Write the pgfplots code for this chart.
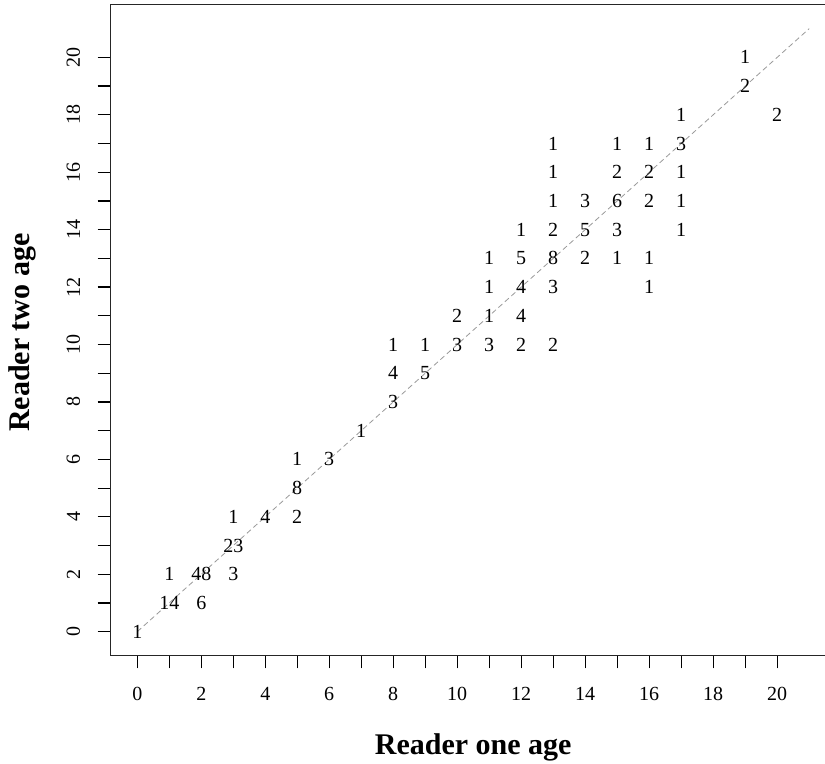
\documentclass[border=0pt]{standalone}
\usepackage{pgfplots}
\pgfplotsset{compat=1.18}
\usepackage{pgfplotstable}
\usepackage{fontspec}
\setmainfont{Liberation Serif}

\pgfplotstableread{
x y c
0 0 1
1 1 14
1 2 1
2 1 6
2 2 48
3 2 3
3 3 23
3 4 1
4 4 4
5 4 2
5 5 8
5 6 1
6 6 3
7 7 1
8 8 3
8 9 4
8 10 1
9 9 5
9 10 1
10 10 3
10 11 2
11 10 3
11 11 1
11 12 1
11 13 1
12 10 2
12 11 4
12 12 4
12 13 5
12 14 1
13 10 2
13 12 3
13 13 8
13 14 2
13 15 1
13 16 1
13 17 1
14 13 2
14 14 5
14 15 3
15 13 1
15 14 3
15 15 6
15 16 2
15 17 1
16 12 1
16 13 1
16 15 2
16 16 2
16 17 1
17 14 1
17 15 1
17 16 1
17 17 3
17 18 1
19 19 2
19 20 1
20 18 2
}\agetable

\begin{document}
\begin{tikzpicture}
  % page = visible part of the R device (right edge of the box is cut off)
  \useasboundingbox (-82.8pt,-80.4pt) rectangle (536pt,491.9pt);
  \begin{axis}[
    scale only axis,
    width=544.3pt, height=488.5pt,
    xmin=-0.84, xmax=21.84,
    ymin=-0.84, ymax=21.84,
    xtick={0,1,...,20},
    ytick={0,1,...,20},
    xticklabels={0,,2,,4,,6,,8,,10,,12,,14,,16,,18,,20},
    yticklabels={0,,2,,4,,6,,8,,10,,12,,14,,16,,18,,20},
    xtick pos=bottom, ytick pos=left,
    tick align=outside,
    major tick length=9.5pt,
    every tick/.style={black, line width=0.9pt},
    axis line style={line width=0.9pt, black!85},
    /pgf/number format/assume math mode=true,
    tick label style={font=\fontsize{15}{18}\selectfont},
    xticklabel style={anchor=north, inner sep=0pt, yshift=-14pt},
    yticklabel style={rotate=90, anchor=south, inner sep=0pt},
    yticklabel shift=13pt,
    xlabel={\bfseries Reader one age},
    ylabel={\bfseries Reader two age},
    every axis x label/.style={at={(axis description cs:0.5,0)}, anchor=center,
      yshift=-69pt, font=\fontsize{22.5}{27}\selectfont},
    every axis y label/.style={at={(axis description cs:0,0.496)}, anchor=center,
      xshift=-66pt, rotate=90, font=\fontsize{22.5}{27}\selectfont},
    clip=false,
  ]
    \addplot[gray!80, line width=0.6pt, dash pattern=on 4pt off 2.5pt]
      coordinates {(0,0) (21,21)};
    \addplot[only marks, mark=none,
      point meta=explicit symbolic,
      nodes near coords,
      nodes near coords align=center,
      every node near coord/.style={anchor=center, inner sep=0pt,
        font=\fontsize{15}{18}\selectfont, text=black}]
      table[x=x, y=y, meta=c] {\agetable};
  \end{axis}
\end{tikzpicture}
\end{document}
